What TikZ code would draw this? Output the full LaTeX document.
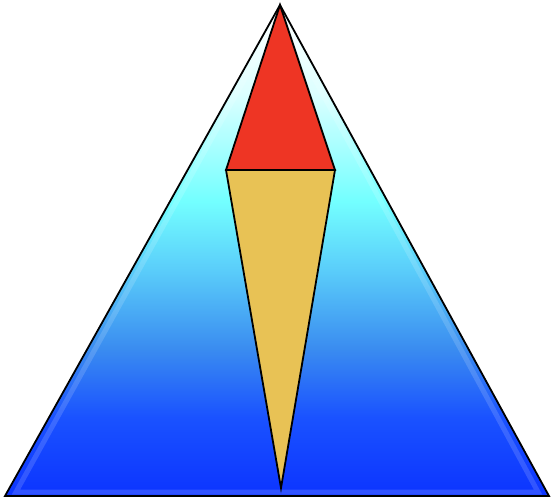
\documentclass[tikz,border=0pt]{standalone}
\usepackage{tikz}
\usetikzlibrary{calc}

\definecolor{deepblue}{RGB}{12,52,255}
\definecolor{midblue}{RGB}{26,82,255}
\definecolor{softblue}{RGB}{58,140,240}
\definecolor{paleblue}{RGB}{90,205,250}
\definecolor{aqua}{RGB}{115,255,255}
\definecolor{iceblue}{RGB}{220,255,255}
\definecolor{tipred}{RGB}{238,53,36}
\definecolor{bodyyellow}{RGB}{232,194,85}

\pgfdeclareverticalshading{skyfade}{100bp}{
  color(0bp)=(deepblue); color(25bp)=(deepblue); color(33bp)=(midblue);
  color(40bp)=(softblue); color(48bp)=(paleblue); color(55bp)=(aqua);
  color(66bp)=(iceblue); color(75bp)=(white); color(100bp)=(white)}

\begin{document}
\begin{tikzpicture}[
    x=1pt, y=-1pt,
    outline/.style={draw=black, line width=1.8pt, line join=miter},
    glow/.style={draw=white, line width=5pt, opacity=0.15}
]
\useasboundingbox (0,0) rectangle (554,500);

% corner points
\coordinate (apex) at (280,5);
\coordinate (baseL) at (5,496);
\coordinate (baseR) at (549,496);
\coordinate (tipL) at (226,170);
\coordinate (tipR) at (335,170);
\coordinate (tipB) at (281,488);

% big triangle
\shade[shading=skyfade] (apex) -- (baseR) -- (baseL) -- cycle;
\draw[glow] ($(apex)+(0,10)$) -- ($(baseR)+(-11,-4)$) -- ($(baseL)+(11,-4)$) -- cycle;
\draw[outline] (apex) -- (baseR) -- (baseL) -- cycle;

% red tip and yellow body
\draw[outline, fill=tipred] (apex) -- (tipR) -- (tipL) -- cycle;
\draw[outline, fill=bodyyellow] (tipL) -- (tipR) -- (tipB) -- cycle;
\end{tikzpicture}
\end{document}
